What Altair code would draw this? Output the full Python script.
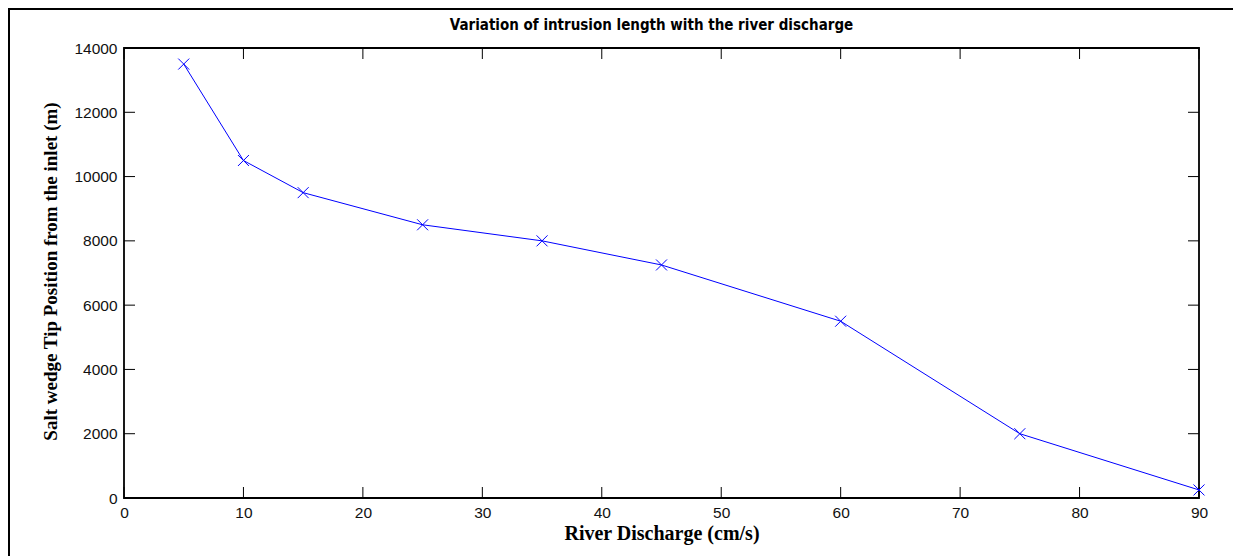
import altair as alt
import pandas as pd

# Data
discharge = [5, 10, 15, 25, 35, 45, 60, 75, 90]
tip_position = [13500, 10500, 9500, 8500, 8000, 7250, 5500, 2000, 250]
x_tick_values = [0, 10, 20, 30, 40, 50, 60, 70, 80, 90]
y_tick_values = [0, 2000, 4000, 6000, 8000, 10000, 12000, 14000]

title_text = "Variation of intrusion length with the river discharge"
x_title = "River Discharge (cm/s)"
y_title = "Salt wedge Tip Position from the  inlet (m)"

W, H = 1075, 450
TICK = 11

df = pd.DataFrame({"discharge": discharge, "tip": tip_position})
xt = pd.DataFrame({"discharge": x_tick_values})
yt = pd.DataFrame({"tip": y_tick_values})
one = pd.DataFrame({"label": [title_text]})

xenc = alt.X(
    "discharge:Q",
    scale=alt.Scale(domain=[0, 90], nice=False, zero=False),
    axis=alt.Axis(
        values=x_tick_values, ticks=False, tickSize=0, domain=False, grid=False,
        format="d",
        labelFont="Liberation Sans", labelFontSize=15.5, labelColor="#111",
        labelPadding=7, labelFlush=False,
        title=x_title, titleFont="Liberation Serif", titleFontSize=20,
        titleFontWeight="bold", titleColor="#000", titleY=41,
        titleBaseline="alphabetic",
    ),
)
yenc = alt.Y(
    "tip:Q",
    scale=alt.Scale(domain=[0, 14000], nice=False, zero=False),
    axis=alt.Axis(
        values=y_tick_values, ticks=False, tickSize=0, domain=False, grid=False,
        format="d",
        labelFont="Liberation Sans", labelFontSize=15.5, labelColor="#111",
        labelPadding=7, labelFlush=False,
        title=y_title, titleFont="Liberation Serif", titleFontSize=19,
        titleFontWeight="bold", titleColor="#000", titleAngle=270,
        titleX=-68, titleY=H / 2 - 2, titleAlign="center", titleBaseline="alphabetic",
    ),
)

line = alt.Chart(df).mark_line(color="#0000ff", strokeWidth=1).encode(x=xenc, y=yenc)
pts = alt.Chart(df).mark_point(
    shape="M-1,-1L1,1M-1,1L1,-1", size=121, filled=False, color="#0000ff",
    strokeWidth=1, opacity=1,
).encode(x=xenc, y=yenc)

tick_bottom = alt.Chart(xt).mark_rule(color="#000", strokeWidth=1).encode(
    x=xenc, y=alt.value(H), y2=alt.value(H - TICK))
tick_top = alt.Chart(xt).mark_rule(color="#000", strokeWidth=1).encode(
    x=xenc, y=alt.value(0), y2=alt.value(TICK))
tick_left = alt.Chart(yt).mark_rule(color="#000", strokeWidth=1).encode(
    y=yenc, x=alt.value(0), x2=alt.value(TICK))
tick_right = alt.Chart(yt).mark_rule(color="#000", strokeWidth=1).encode(
    y=yenc, x=alt.value(W), x2=alt.value(W - TICK))

border_left = alt.Chart(one).mark_rule(color="#000", strokeWidth=2).encode(
    x=alt.value(-115), y=alt.value(-40), y2=alt.value(H + 60))
border_top = alt.Chart(one).mark_rule(color="#000", strokeWidth=2).encode(
    y=alt.value(-39), x=alt.value(-116), x2=alt.value(W + 40))

title = alt.Chart(one).mark_text(
    font="DejaVu Sans Condensed, Liberation Sans Narrow, DejaVu Sans",
    fontSize=15, fontWeight="bold", color="#000",
    align="center", baseline="alphabetic",
).encode(text="label:N", x=alt.value(W / 2 - 10), y=alt.value(-18))

chart = alt.layer(
    tick_bottom, tick_top, tick_left, tick_right, line, pts,
    border_left, border_top, title
).properties(
    width=W, height=H,
    autosize=alt.AutoSizeParams(type="none"),
    padding={"left": 116, "top": 40, "right": 34, "bottom": 58},
).configure(
    background="white",
    view=alt.ViewConfig(stroke="#000", strokeWidth=1.8),
)

chart.save("out.html", embed_options={"renderer": "svg", "actions": False})
